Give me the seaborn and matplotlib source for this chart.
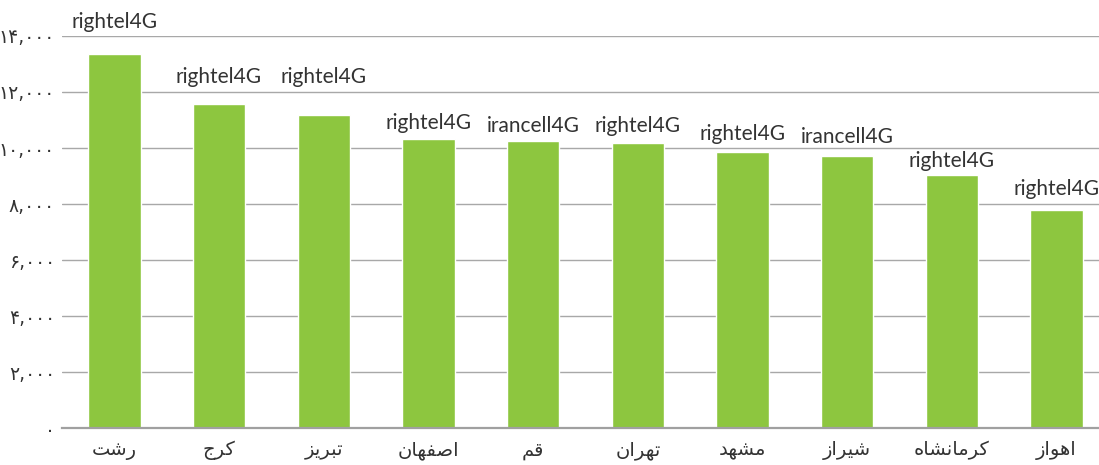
## bibliotecas
import matplotlib
matplotlib.use("Agg")
import matplotlib.pyplot as plt
import seaborn as sns

## dados
cidades = ['رشت', 'کرج', 'تبریز', 'اصفهان', 'قم', 'تهران', 'مشهد', 'شیراز', 'کرمانشاه', 'اهواز']
valores = [13350, 11570, 11180, 10320, 10250, 10180, 9860, 9710, 9040, 7790]
operadoras = ['rightel4G', 'rightel4G', 'rightel4G', 'rightel4G', 'irancell4G',
              'rightel4G', 'rightel4G', 'irancell4G', 'rightel4G', 'rightel4G']
y_ticks = [0, 2000, 4000, 6000, 8000, 10000, 12000, 14000]

## distancia (px) entre o topo da barra e a base do rotulo
label_gap = [26, 21, 32, 10, 9, 11, 12, 13, 8, 15]

## formas de apresentacao arabes: (isolada, final, inicial, medial)
FORMS = {
    'ا': ('\uFE8D', '\uFE8E', None, None),
    'ب': ('\uFE8F', '\uFE90', '\uFE91', '\uFE92'),
    'ت': ('\uFE95', '\uFE96', '\uFE97', '\uFE98'),
    'ج': ('\uFE9D', '\uFE9E', '\uFE9F', '\uFEA0'),
    'د': ('\uFEA9', '\uFEAA', None, None),
    'ر': ('\uFEAD', '\uFEAE', None, None),
    'ز': ('\uFEAF', '\uFEB0', None, None),
    'ش': ('\uFEB5', '\uFEB6', '\uFEB7', '\uFEB8'),
    'ص': ('\uFEB9', '\uFEBA', '\uFEBB', '\uFEBC'),
    'ف': ('\uFED1', '\uFED2', '\uFED3', '\uFED4'),
    'ق': ('\uFED5', '\uFED6', '\uFED7', '\uFED8'),
    'م': ('\uFEE1', '\uFEE2', '\uFEE3', '\uFEE4'),
    'ن': ('\uFEE5', '\uFEE6', '\uFEE7', '\uFEE8'),
    'ه': ('\uFEE9', '\uFEEA', '\uFEEB', '\uFEEC'),
    'و': ('\uFEED', '\uFEEE', None, None),
    'ک': ('\uFB8E', '\uFB8F', '\uFB90', '\uFB91'),
    'ی': ('\uFBFC', '\uFBFD', '\uFBFE', '\uFBFF'),
}


def shape(word):
    out = []
    for i, c in enumerate(word):
        iso, fin, ini, med = FORMS[c]
        prev_join = i > 0 and FORMS[word[i - 1]][2] is not None
        next_join = ini is not None and i < len(word) - 1
        if prev_join and next_join:
            out.append(med)
        elif prev_join:
            out.append(fin)
        elif next_join:
            out.append(ini)
        else:
            out.append(iso)
    return ''.join(reversed(out))


def fa_num(v):
    s = f"{v:,}"
    return s.translate(str.maketrans('0123456789', '۰۱۲۳۴۵۶۷۸۹'))


sns.set_style("white")
plt.rcParams['font.family'] = ['DejaVu Sans']

fig = plt.figure(figsize=(10.99, 4.65), dpi=100)
ax = fig.add_axes([62 / 1099, 37 / 465, 1036.5 / 1099, 392 / 465])

nomes = [shape(c) for c in cidades]
sns.barplot(x=nomes, y=valores, color='#8DC63F', saturation=1, width=0.5, ax=ax)

ax.set_xlim(-0.5, 9.4)
ax.set_ylim(0, 14000)
ax.set_yticks(y_ticks)
ax.set_yticklabels([fa_num(v) for v in y_ticks], fontsize=13.5, color='#333333')
ax.tick_params(axis='y', length=0, pad=5)
ax.tick_params(axis='x', length=0, pad=9, labelsize=14, labelcolor='#333333')
ax.set_xlabel('')
ax.set_ylabel('')

ax.set_axisbelow(True)
ax.grid(axis='y', color='#a8a8a8', linewidth=1)
ax.grid(axis='x', visible=False)
for s in ['top', 'right', 'left']:
    ax.spines[s].set_visible(False)
ax.spines['bottom'].set_color('#a0a0a0')
ax.spines['bottom'].set_linewidth(1.6)

## rotulos das operadoras acima das barras
for i, (v, op) in enumerate(zip(valores, operadoras)):
    ax.annotate(op, (i, v), xytext=(0, label_gap[i] * 0.72), textcoords='offset points',
                ha='center', va='baseline', fontsize=15, color='#333333', family=['Lato', 'DejaVu Sans'])

plt.savefig('out.png', dpi=100)
plt.close()
